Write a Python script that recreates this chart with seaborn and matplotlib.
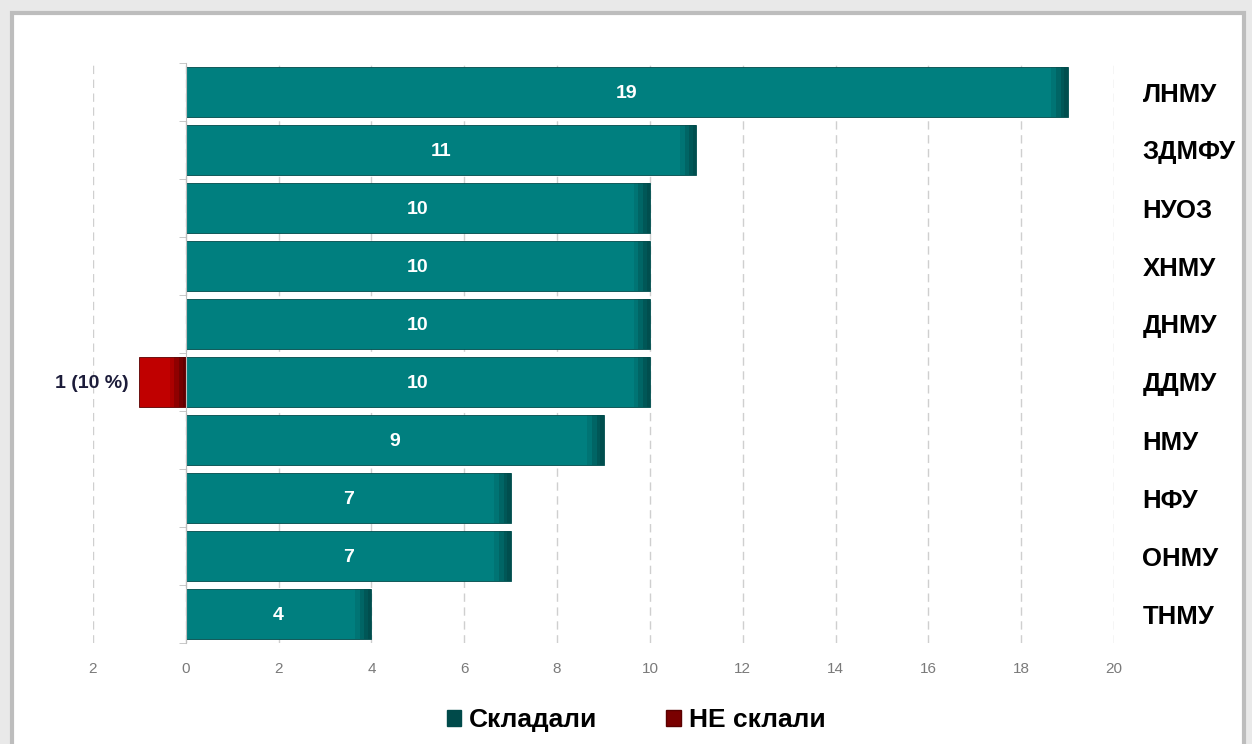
import numpy as np
import matplotlib
matplotlib.use("Agg")
import matplotlib.pyplot as plt
import matplotlib.patches as mpatches
from matplotlib.ticker import FuncFormatter, MultipleLocator
import seaborn as sns

# ==============================
#            DATA
# ==============================
universities = ["ЛНМУ", "ЗДМФУ", "НУОЗ", "ХНМУ", "ДНМУ", "ДДМУ", "НМУ", "НФУ", "ОНМУ", "ТНМУ"]
passed = [19, 11, 10, 10, 10, 10, 9, 7, 7, 4]
failed = [0, 0, 0, 0, 0, -1, 0, 0, 0, 0]   # shown to the left of zero
legend_labels = ["Складали", "НЕ склали"]

TEAL = "#007f7f"
TEAL_DARK = "#004a4a"
RED = "#c00000"
RED_DARK = "#5a0000"
FONT = "Liberation Sans"

sns.set_style("white")
plt.rcParams["font.family"] = [FONT, "DejaVu Sans"]

fig = plt.figure(figsize=(12.52, 7.44), dpi=100)
fig.patch.set_facecolor("#e9e9e9")
# white card with grey frame
fig.add_artist(mpatches.Rectangle((12 / 1252, -0.05), 1232 / 1252, 1.05 - 13 / 744,
                                  transform=fig.transFigure, facecolor="white",
                                  edgecolor="#bdbdbd", linewidth=3, zorder=0))

ax = fig.add_axes([93 / 1252, 1 - 643 / 744, (1114 - 93) / 1252, (643 - 63) / 744])
ax.set_facecolor("none")

sns.barplot(x=passed, y=universities, orient="h", color=TEAL, width=0.86, saturation=1,
            edgecolor=TEAL_DARK, linewidth=0.6, ax=ax, zorder=3)
sns.barplot(x=failed, y=universities, orient="h", color=RED, width=0.86, saturation=1,
            edgecolor=RED_DARK, linewidth=0.6, ax=ax, zorder=3)

# darker shading at the bar ends (fake gradient)
ends = np.array(passed, dtype=float)
neg = np.array(failed, dtype=float)
ypos = np.arange(len(universities))
m = neg < 0
for k, frac in enumerate([0.35, 0.25, 0.15, 0.07]):
    shade = 0.2 + 0.15 * k
    ax.barh(ypos, frac, left=ends - frac, height=0.86,
            color=TEAL_DARK, alpha=shade, linewidth=0, zorder=4)
    ax.barh(ypos[m], frac, left=np.zeros(m.sum()) - frac, height=0.86,
            color=RED_DARK, alpha=shade, linewidth=0, zorder=4)

# value labels
teal_bars = ax.containers[0]
red_bars = ax.containers[1]
lbls = ax.bar_label(teal_bars, labels=[str(v) for v in passed], label_type="center",
                    color="white", fontsize=14, fontweight="bold", zorder=6)
for t in lbls:
    t.set_verticalalignment("center_baseline")
total_ddmu = passed[universities.index("ДДМУ")]
red_labels = [f"{abs(v)} ({abs(v) / total_ddmu * 100:.0f} %)" if v else "" for v in failed]
rl = ax.bar_label(red_bars, labels=red_labels, label_type="edge", padding=8,
                  color="#1c1c3a", fontsize=14, fontweight="bold")
for t in rl:
    t.set_verticalalignment("center_baseline")

# axes
ax.set_xlim(-2, 20)
ax.set_ylim(len(universities) - 0.5, -0.5)
ax.xaxis.set_major_locator(MultipleLocator(2))
ax.xaxis.set_major_formatter(FuncFormatter(lambda v, p: f"{abs(v):.0f}"))
ax.grid(axis="x", color="#cfcfcf", linestyle=(0, (6, 4)), linewidth=1, zorder=0)
ax.grid(axis="y", visible=False)

for s in ["top", "right", "bottom"]:
    ax.spines[s].set_visible(False)
ax.spines["left"].set_position(("data", 0))
ax.spines["left"].set_color("#bfbfbf")
ax.spines["left"].set_zorder(5)

ax.tick_params(axis="x", length=0, pad=14, labelsize=11, labelcolor="#7a7a7a")
ax.set_yticks(ypos)
ax.set_yticklabels(universities)
ax.set_yticks(np.arange(len(universities) + 1) - 0.5, minor=True)
ax.tick_params(axis="y", which="major", left=False, right=False,
               labelleft=False, labelright=True, pad=17, labelsize=18.5)
ax.tick_params(axis="y", which="minor", left=True, right=False, length=5,
               color="#bfbfbf", direction="out")
for t in ax.get_yticklabels():
    t.set_fontweight("bold")
    t.set_color("black")
ax.set_xlabel("")
ax.set_ylabel("")

handles = [mpatches.Patch(facecolor=TEAL_DARK, edgecolor=TEAL_DARK),
           mpatches.Patch(facecolor="#7a0000", edgecolor=RED_DARK)]
fig.legend(handles, legend_labels, loc="center", bbox_to_anchor=(0.508, 1 - 720 / 744),
           ncol=2, frameon=False, prop={"family": FONT, "weight": "bold", "size": 19},
           handlelength=0.55, handleheight=0.55, handletextpad=0.3, columnspacing=2.6,
           labelcolor="black")

fig.savefig("out.png", dpi=100, facecolor=fig.get_facecolor())
